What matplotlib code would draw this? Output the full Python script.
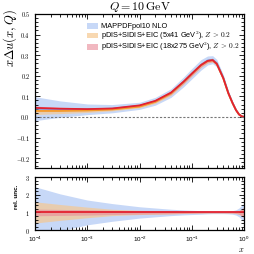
import numpy as np
import matplotlib
matplotlib.use("Agg")
import matplotlib.pyplot as plt
from matplotlib.ticker import FuncFormatter, MultipleLocator, LogLocator, NullFormatter
from matplotlib.patches import Patch

plt.rcParams['mathtext.fontset'] = 'cm'
plt.rcParams['font.family'] = ['Liberation Sans', 'DejaVu Sans']

x = [1e-4, 3e-4, 1e-3, 3e-3, 1e-2, 2e-2, 4e-2, 7e-2, 0.1, 0.15, 0.2, 0.25, 0.3,
     0.4, 0.5, 0.6, 0.7, 0.8, 0.9, 1.0]
red_c = [0.044, 0.040, 0.038, 0.041, 0.056, 0.078, 0.118, 0.172, 0.210, 0.252, 0.272,
         0.276, 0.258, 0.188, 0.115, 0.068, 0.033, 0.012, 0.003, 0.0]
orange_c = [0.029, 0.029, 0.031, 0.036, 0.050, 0.073, 0.114, 0.170, 0.209, 0.251, 0.271,
            0.275, 0.257, 0.187, 0.114, 0.067, 0.033, 0.012, 0.003, 0.0]
blue_c = [0.040, 0.038, 0.037, 0.040, 0.054, 0.076, 0.116, 0.171, 0.210, 0.253, 0.274,
          0.278, 0.261, 0.191, 0.117, 0.069, 0.034, 0.012, 0.003, 0.0]
blue_rel = [1.45, 1.05, 0.70, 0.50, 0.32, 0.25, 0.18, 0.14, 0.12, 0.10, 0.08, 0.07, 0.07,
            0.07, 0.08, 0.10, 0.15, 0.25, 0.40, 0.50]
orange_rel = [0.60, 0.45, 0.30, 0.18, 0.12, 0.10, 0.08, 0.06, 0.05, 0.04, 0.035, 0.03, 0.03,
              0.03, 0.035, 0.04, 0.06, 0.10, 0.20, 0.30]
red_rel = [0.19, 0.17, 0.15, 0.12, 0.10, 0.09, 0.08, 0.06, 0.05, 0.04, 0.03, 0.03, 0.03,
           0.03, 0.035, 0.04, 0.06, 0.10, 0.20, 0.30]

labels = ['MAPPDFpol10 NLO',
          r'pDIS+SIDIS+EIC (5x41 GeV$^2$), $Z\,>\,0.2$',
          r'pDIS+SIDIS+EIC (18x275 GeV$^2$), $Z\,>\,0.2$']
band_cols = ['#a9c3f4', '#f6c891', '#e88a96']
line_cols = ['#6f9be8', '#f59a2a', '#e3212f']
alphas = [0.65, 0.7, 0.6]

xa = np.array(x)
cents = [np.array(blue_c), np.array(orange_c), np.array(red_c)]
rels = [np.array(blue_rel), np.array(orange_rel), np.array(red_rel)]

fig = plt.figure(figsize=(2.54, 2.54), dpi=100)
ax1 = fig.add_axes([0.138, 0.337, 0.823, 0.608])
ax2 = fig.add_axes([0.138, 0.094, 0.823, 0.209])

for c, r, bc, a in zip(cents, rels, band_cols, alphas):
    ax1.fill_between(xa, c * (1 - r), c * (1 + r), color=bc, alpha=a, lw=0)
    ax2.fill_between(xa, 1 - r, 1 + r, color=bc, alpha=a, lw=0)
for c, lc in zip(cents, line_cols):
    ax1.plot(xa, c, color=lc, lw=1.3)
ax2.plot(xa, np.ones_like(xa), color=line_cols[2], lw=1.3)
ax1.axhline(0, color='#777777', lw=0.8, ls=(0, (2, 1.5)))

for ax in (ax1, ax2):
    ax.set_xscale('log')
    ax.set_xlim(1e-4, 1)
    ax.tick_params(which='both', direction='in', top=True, right=True, labelsize=4.5,
                   width=0.6)
    ax.tick_params(which='major', length=3.5)
    ax.tick_params(which='minor', length=2)
    ax.xaxis.set_major_locator(LogLocator(base=10, numticks=10))
    ax.xaxis.set_minor_locator(LogLocator(base=10, subs=np.arange(2, 10), numticks=10))
    for s in ax.spines.values():
        s.set_linewidth(0.9)

ax1.set_ylim(-0.25, 0.5)
ax1.yaxis.set_major_locator(MultipleLocator(0.1))
ax1.yaxis.set_minor_locator(MultipleLocator(0.02))
ax1.yaxis.set_major_formatter(FuncFormatter(lambda v, p: r'$%.1f$' % v))
ax1.xaxis.set_major_formatter(NullFormatter())
ax1.set_ylabel(r'$x\Delta u(x,Q)$', fontsize=9.0, loc='top')
ax1.yaxis.set_label_coords(-0.078, 1.03)
ax1.set_title(r'$Q = 10\,\mathrm{GeV}$', fontsize=8.6, pad=1.5)

ax2.set_ylim(0, 3)
ax2.yaxis.set_major_locator(MultipleLocator(1))
ax2.yaxis.set_minor_locator(MultipleLocator(0.2))
ax2.yaxis.set_major_formatter(FuncFormatter(lambda v, p: r'$%d$' % v))
ax2.set_ylabel('rel. unc.', fontsize=4.6, fontweight='bold')
ax2.yaxis.set_label_coords(-0.075, 0.62)
ax2.set_xlabel(r'$x$', fontsize=6)
ax2.xaxis.set_label_coords(0.986, -0.29)

handles = [Patch(facecolor=bc, alpha=a, edgecolor='none') for bc, a in zip(band_cols, alphas)]
ax1.legend(handles, labels, loc='upper left', bbox_to_anchor=(0.233, 0.96), fontsize=5.3,
           frameon=False, handlelength=1.6, handleheight=0.8, labelspacing=-0.12,
           handletextpad=0.4, borderaxespad=0.0)

fig.savefig('out.png', dpi=100)
